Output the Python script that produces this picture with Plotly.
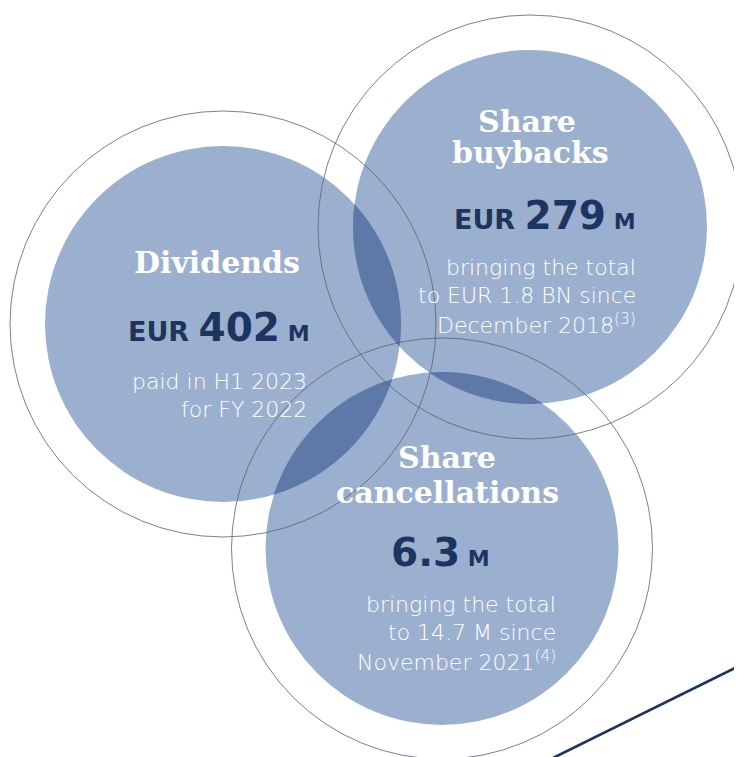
import numpy as np
import plotly.graph_objects as go

# ---- data ----
headings = ["Dividends", "Share<br>buybacks", "Share<br>cancellations"]
amount_prefix = ["EUR", "EUR", ""]
amount_values = ["402", "279", "6.3"]
amount_unit = ["M", "M", "M"]
notes = [
    ["paid in H1 2023", "for FY 2022"],
    ["bringing the total", "to EUR 1.8 BN since", "December 2018<sup>(3)</sup>"],
    ["bringing the total", "to 14.7 M since", "November 2021<sup>(4)</sup>"],
]

# ---- layout geometry (pixels, y down) ----
W, H = 742, 757
OFF = 8  # page body margin compensation
centers = [(223, 324), (530, 227), (442, 548.5)]
r_fill = [178, 177, 176.5]
r_outer = [213, 212, 210.5]

FILL = "#9BB0CF"
LENS = "#5E78A8"
NAVY = "#1D3461"
RING = "#5A5F73"

fig = go.Figure()
fig.add_trace(go.Scatter(x=[OFF, W], y=[OFF, H], mode="markers", marker=dict(opacity=0), hoverinfo="skip", showlegend=False))

shapes = []
for (cx, cy), r in zip(centers, r_fill):
    shapes.append(dict(type="circle", xref="x", yref="y", x0=cx - r, x1=cx + r, y0=cy - r, y1=cy + r,
                       fillcolor=FILL, line=dict(width=0), layer="below"))


def arc(c, r, a0, a1, n=120):
    t = np.linspace(a0, a1, n)
    return np.c_[c[0] + r * np.cos(t), c[1] + r * np.sin(t)]


def lens(i, j):
    cA, rA = np.array(centers[i], float), r_fill[i]
    cB, rB = np.array(centers[j], float), r_fill[j]
    d = np.linalg.norm(cB - cA)
    if d >= rA + rB:
        return None
    phi = np.arctan2(cB[1] - cA[1], cB[0] - cA[0])
    al = np.arccos((d * d + rA * rA - rB * rB) / (2 * d * rA))
    be = np.arccos((d * d + rB * rB - rA * rA) / (2 * d * rB))
    pa = arc(cA, rA, phi - al, phi + al)
    pb = arc(cB, rB, phi + np.pi - be, phi + np.pi + be)
    if np.linalg.norm(pb[0] - pa[-1]) > np.linalg.norm(pb[-1] - pa[-1]):
        pb = pb[::-1]
    pts = np.vstack([pa, pb])
    return "M " + " L ".join(f"{x:.2f},{y:.2f}" for x, y in pts) + " Z"


for i, j in [(0, 1), (0, 2), (1, 2)]:
    p = lens(i, j)
    if p:
        shapes.append(dict(type="path", xref="x", yref="y", path=p, fillcolor=LENS, line=dict(width=0), layer="below"))

for (cx, cy), r in zip(centers, r_outer):
    shapes.append(dict(type="circle", xref="x", yref="y", x0=cx - r, x1=cx + r, y0=cy - r, y1=cy + r,
                       line=dict(color=RING, width=0.8), fillcolor="rgba(0,0,0,0)", layer="below"))

# decorative diagonal lines
shapes.append(dict(type="line", xref="x", yref="y", x0=553, y0=758, x1=745, y1=663, line=dict(color=NAVY, width=2.6)))
shapes.append(dict(type="line", xref="x", yref="y", x0=737, y0=83, x1=746, y1=74, line=dict(color=NAVY, width=2.2)))

ann = []
SERIF = "DejaVu Serif"
NUM = "DejaVu Sans"
BODY = "DejaVu Sans"


def add(text, x, y, size, color, family, anchor="center", weight=None):
    f = dict(size=size, color=color, family=family)
    if weight:
        f["weight"] = weight
    ann.append(dict(text=text, x=x, y=y, xref="x", yref="y", showarrow=False, xanchor=anchor, yanchor="middle",
                    font=f, align=anchor if anchor != "center" else "center"))


# headings (per line)
head_pos = [[(217, 262)], [(527, 121), (530, 152)], [(447, 457), (447, 492)]]
for h, pos in zip(headings, head_pos):
    for line, (x, y) in zip(h.split("<br>"), pos):
        add(f"<b>{line}</b>", x, y, 30, "white", SERIF)

# amounts
amt_pos = [(312, 327, "right"), (638, 215, "right"), (440, 552, "center")]
for pre, val, unit, (x, y, a) in zip(amount_prefix, amount_values, amount_unit, amt_pos):
    t = ""
    if pre:
        t += f"<span style='font-size:27px'>{pre} </span>"
    t += f"<span style='font-size:39px'>{val}</span><span style='font-size:22px'> {unit}</span>"
    add(f"<b>{t}</b>", x, y, 27, NAVY, NUM, a)

# notes
note_pos = [(309, 381), (638, 267), (558, 604)]
for lines, (x, y0) in zip(notes, note_pos):
    for k, line in enumerate(lines):
        add(line, x, y0 + 28.5 * k, 22, "white", BODY, "right", weight=200)

fig.update_layout(
    width=W - OFF, height=H - OFF, margin=dict(l=0, r=0, t=0, b=0),
    paper_bgcolor="white", plot_bgcolor="white",
    xaxis=dict(range=[OFF, W], visible=False, fixedrange=True),
    yaxis=dict(range=[H, OFF], visible=False, fixedrange=True),
    shapes=shapes, annotations=ann, showlegend=False,
)
fig.write_html("out.html")
